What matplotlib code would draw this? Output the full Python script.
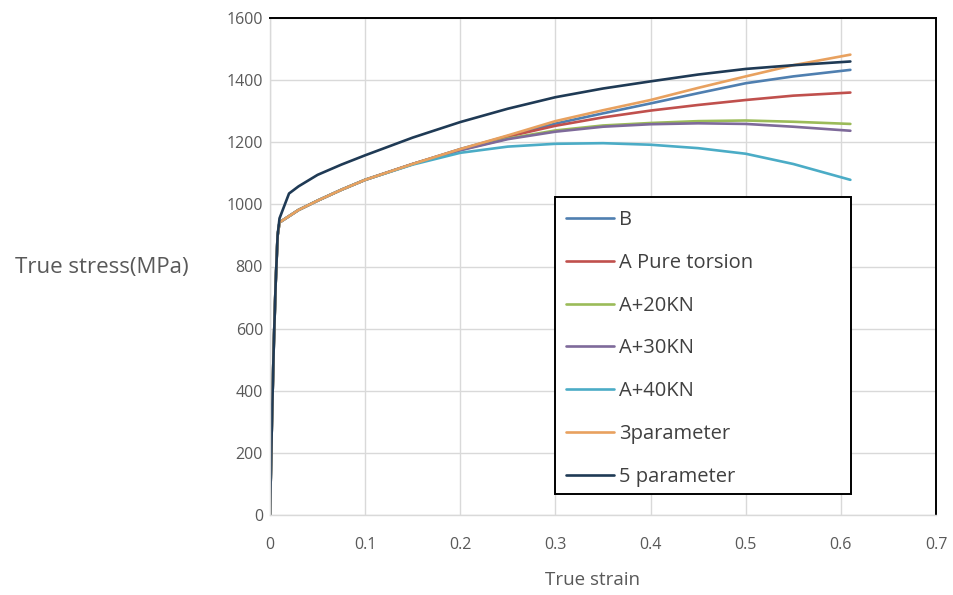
import matplotlib
matplotlib.use("Agg")
import matplotlib.pyplot as plt
from matplotlib.patches import Rectangle

plt.rcParams['font.family'] = ['Open Sans', 'DejaVu Sans']

# ---- data ----
strain = [0, 0.002, 0.004, 0.006, 0.008, 0.01, 0.02, 0.03, 0.05, 0.075, 0.1,
          0.15, 0.2, 0.25, 0.3, 0.35, 0.4, 0.45, 0.5, 0.55, 0.61]

stress_B = [0, 300, 550, 750, 900, 942, 962, 982, 1012, 1047, 1079,
            1130, 1178, 1220, 1260, 1293, 1325, 1358, 1390, 1412, 1433]
stress_A_pure = [0, 300, 550, 750, 900, 942, 962, 982, 1012, 1047, 1079,
                 1130, 1177, 1218, 1253, 1280, 1302, 1320, 1336, 1350, 1360]
stress_A_20 = [0, 300, 550, 750, 900, 942, 962, 982, 1012, 1047, 1079,
               1130, 1175, 1212, 1238, 1254, 1262, 1268, 1270, 1266, 1259]
stress_A_30 = [0, 300, 550, 750, 900, 942, 962, 982, 1012, 1047, 1079,
               1130, 1174, 1210, 1234, 1250, 1258, 1261, 1259, 1250, 1237]
stress_A_40 = [0, 300, 550, 750, 900, 942, 962, 982, 1012, 1047, 1079,
               1128, 1166, 1186, 1195, 1197, 1192, 1181, 1163, 1130, 1079]
stress_3p = [0, 300, 550, 750, 900, 942, 962, 982, 1012, 1047, 1079,
             1130, 1178, 1222, 1268, 1303, 1336, 1375, 1412, 1448, 1482]
stress_5p = [0, 300, 550, 750, 900, 955, 1035, 1058, 1095, 1128, 1158,
             1215, 1265, 1308, 1345, 1373, 1396, 1418, 1436, 1448, 1460]

labels = ["B", "A Pure torsion", "A+20KN", "A+30KN", "A+40KN",
          "3parameter", "5 parameter"]
colors = ["#4F7FB0", "#C0504D", "#9BBB59", "#7E6A9A", "#4BACC6",
          "#E8A15F", "#1F3A55"]
series = [stress_B, stress_A_pure, stress_A_20, stress_A_30, stress_A_40,
          stress_3p, stress_5p]

x_ticks = [0, 0.1, 0.2, 0.3, 0.4, 0.5, 0.6, 0.7]
x_ticklabels = ["0", "0.1", "0.2", "0.3", "0.4", "0.5", "0.6", "0.7"]
y_ticks = [0, 200, 400, 600, 800, 1000, 1200, 1400, 1600]

# ---- figure ----
fig = plt.figure(figsize=(9.54, 5.95), dpi=100)
ax = fig.add_axes([270/954, 1-515/595, (936-270)/954, (515-18)/595])

handles = []
for y, c, lab in zip(series, colors, labels):
    h, = ax.plot(strain, y, color=c, lw=1.9, label=lab, solid_capstyle='round')
    handles.append(h)

ax.set_xlim(0, 0.7)
ax.set_ylim(0, 1600)
ax.set_xticks(x_ticks)
ax.set_xticklabels(x_ticklabels)
ax.set_yticks(y_ticks)
ax.grid(True, color="#D9D9D9", lw=1.0)
ax.set_axisbelow(True)
ax.tick_params(length=0, labelsize=11.5, labelcolor="#595959")
ax.tick_params(axis='y', pad=5)
ax.tick_params(axis='x', pad=16)

for s in ["top", "right"]:
    ax.spines[s].set_color("black")
    ax.spines[s].set_linewidth(1.4)
for s in ["left", "bottom"]:
    ax.spines[s].set_color("#D9D9D9")
    ax.spines[s].set_linewidth(1.0)

fig.text(15/954, 1-268/595, "True stress(MPa)", ha="left", va="center",
         fontsize=16, color="#595959")
fig.text(593/954, 1-580/595, "True strain", ha="center", va="center",
         fontsize=13.5, color="#595959")

# legend box
ax.add_patch(Rectangle((555/954, 1-494/595), (851-555)/954, (494-197)/595,
                       transform=fig.transFigure, facecolor="white",
                       edgecolor="black", lw=1.4, zorder=5))
leg = fig.legend(handles=handles, labels=labels, loc="upper left",
                 bbox_to_anchor=(558/954, 1-202/595), frameon=False,
                 fontsize=14.5, labelspacing=1.13, handlelength=2.4,
                 handletextpad=0.25, borderaxespad=0, labelcolor="#404040")
leg.set_zorder(6)

fig.savefig("out.png", dpi=100)
